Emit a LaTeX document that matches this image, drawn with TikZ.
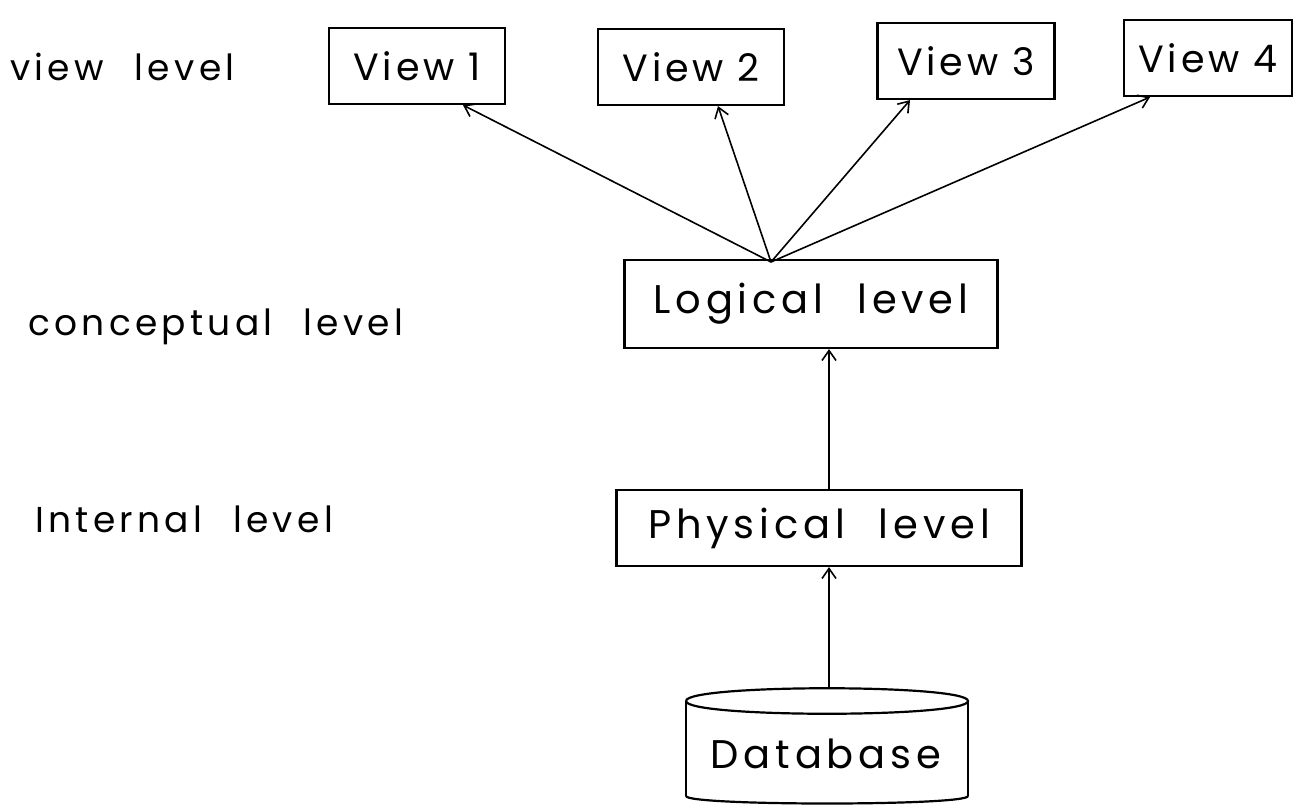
\documentclass[tikz,border=0pt]{standalone}
\usepackage{fontspec}
\setmainfont{Poppins}
\newfontfamily\handfont[LetterSpace=12,WordSpace=2.2]{Poppins}
\newfontfamily\viewfont[LetterSpace=10]{Poppins}
\usetikzlibrary{arrows.meta}
\begin{document}
\begin{tikzpicture}[x=1pt,y=-1pt,
  box/.style={draw=black,line width=2.2pt,minimum height=76pt,inner sep=0pt,font=\handfont\fontsize{40}{46}\selectfont},
  viewbox/.style={box,font=\viewfont\fontsize{38}{44}\selectfont},
  lbl/.style={anchor=base west,inner sep=0pt,font=\handfont\fontsize{36}{42}\selectfont},
  link/.style={line width=1.6pt,-{Straight Barb[length=10pt,width=14pt]}}]
\useasboundingbox (0,0) rectangle (1296,809);
% view level
\node[lbl] (lv) at (10,80) {view level};
\node[viewbox,minimum width=176pt] (v1) at (417,66) {View 1};
\node[viewbox,minimum width=186pt] (v2) at (691,67) {View 2};
\node[viewbox,minimum width=177pt] (v3) at (966,61) {View 3};
\node[viewbox,minimum width=168pt] (v4) at (1208,58) {View 4};
% conceptual level
\node[lbl] (lc) at (28,335) {conceptual level};
\node[box,minimum width=373pt,minimum height=88pt] (lg) at (811,304) {Logical level};
% internal level
\node[lbl] (li) at (35,532) {Internal level};
\node[box,minimum width=405pt] (ph) at (819,528) {Physical level};
% database cylinder
\coordinate (dbtop) at (829,688);
\draw[line width=2.2pt] (686,701) .. controls (686,684) and (968,684) .. (968,701)
  .. controls (968,718) and (686,718) .. (686,701);
\draw[line width=2.2pt] (686,701) -- (686,796);
\draw[line width=2.2pt] (968,701) -- (968,796);
\draw[line width=2.2pt] (686,796) .. controls (686,806) and (968,806) .. (968,796);
\node[font=\handfont\fontsize{40}{46}\selectfont,inner sep=0pt] (db) at (826,754) {Database};
% connectors
\coordinate (fan) at (771,262);
\draw[link] (fan) -- (v1.south -| 463,0);
\draw[link] (fan) -- (v2.south -| 718,0);
\draw[link] (fan) -- (v3.south -| 910,0);
\draw[link] (fan) -- (v4.south -| 1150,0);
\draw[link] (ph.north -| 829,0) -- (lg.south -| 829,0);
\draw[link] (dbtop) -- (ph.south -| 829,0);
\end{tikzpicture}
\end{document}
